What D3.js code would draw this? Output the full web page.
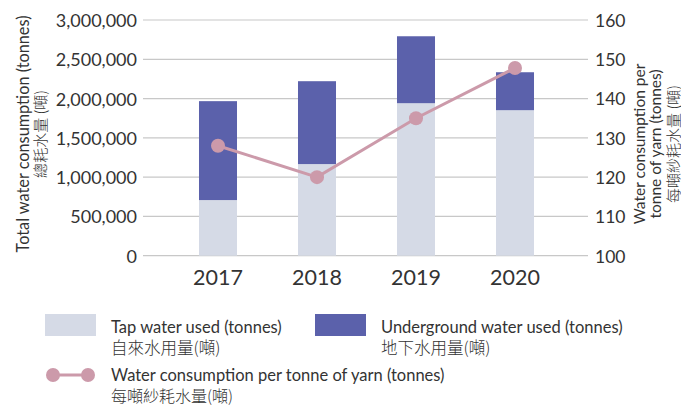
<!DOCTYPE html>
<html><head><meta charset="utf-8">
<script src="https://cdn.jsdelivr.net/npm/d3@7"></script>
<style>
body{margin:0;background:#fff;}
text{font-family:Lato,"Noto Sans CJK TC",sans-serif;fill:#333;}
</style></head><body>
<svg id="c" width="681" height="406"></svg>
<script>
const years = ["2017","2018","2019","2020"];
const tapWater = [708000, 1166000, 1941000, 1852000];
const undergroundWater = [1259000, 1055000, 852000, 483000];
const perTonne = [128, 120, 135, 147.8];
const leftTicks = [0, 500000, 1000000, 1500000, 2000000, 2500000, 3000000];
const rightTicks = [100, 110, 120, 130, 140, 150, 160];

const svg = d3.select("#c");
const x = d3.scaleBand().domain(years).range([168.5, 564.5]).paddingInner(0.616).paddingOuter(0.308);
const y = d3.scaleLinear().domain([0, 3000000]).range([255.7, 20]);
const y2 = d3.scaleLinear().domain([100, 160]).range([255.7, 20]);
const gridX0 = 143, gridX1 = 588;
const CJK = "'Noto Sans CJK TC'";

// gridlines
svg.append("g").selectAll("line").data(leftTicks).join("line")
  .attr("x1", gridX0).attr("x2", gridX1)
  .attr("y1", d => y(d)).attr("y2", d => y(d))
  .attr("stroke", "#c8c8c8").attr("stroke-width", 1.2);

// left axis labels
const fmt = d3.format(",");
const la = svg.append("g").attr("transform", `translate(${gridX0},0)`)
  .call(d3.axisLeft(y).tickValues(leftTicks).tickFormat(fmt).tickSize(0).tickPadding(6));
la.select(".domain").remove();
la.selectAll("text").attr("font-size", 18).attr("dy", "0.36em").style("font-family", "Lato").attr("fill", "#333");

const ra = svg.append("g").attr("transform", `translate(${gridX1},0)`)
  .call(d3.axisRight(y2).tickValues(rightTicks).tickSize(0).tickPadding(7));
ra.select(".domain").remove();
ra.selectAll("text").attr("font-size", 17.5).attr("dy", "0.36em").style("font-family", "Lato").attr("fill", "#333");

// bars
const stackData = years.map((yr, i) => ({year: yr, tap: tapWater[i], under: undergroundWater[i]}));
const series = d3.stack().keys(["tap", "under"])(stackData);
const colors = {tap: "#d5dae6", under: "#5b61ab"};
svg.append("g").selectAll("g").data(series).join("g")
  .attr("fill", d => colors[d.key])
  .selectAll("rect").data(d => d).join("rect")
  .attr("x", d => x(d.data.year)).attr("width", x.bandwidth())
  .attr("y", d => y(d[1])).attr("height", d => y(d[0]) - y(d[1]));

// x axis labels
const xa = svg.append("g").attr("transform", "translate(0,255.7)")
  .call(d3.axisBottom(x).tickSize(0).tickPadding(14));
xa.select(".domain").remove();
xa.selectAll("text").attr("font-size", 21.5).style("font-family", "Lato").attr("fill", "#333");

// line
const pink = "#cc9aaa";
const line = d3.line().x((d, i) => x(years[i]) + x.bandwidth() / 2).y(d => y2(d));
svg.append("path").datum(perTonne).attr("d", line)
  .attr("fill", "none").attr("stroke", pink).attr("stroke-width", 3);
svg.append("g").selectAll("circle").data(perTonne).join("circle")
  .attr("cx", (d, i) => x(years[i]) + x.bandwidth() / 2).attr("cy", d => y2(d))
  .attr("r", 7).attr("fill", pink);

// axis titles
const lt = svg.append("text").attr("transform", "translate(29,134) rotate(-90)")
  .attr("text-anchor", "middle").attr("font-size", 16.3);
lt.append("tspan").attr("x", 0).attr("dy", 0).text("Total water consumption (tonnes)");
lt.append("tspan").attr("x", 0).attr("dy", 17).text("總耗水量 (噸)").style("font-family", CJK).attr("font-size", 15).attr("font-weight", 300);

const rt = svg.append("text").attr("transform", "translate(645,144) rotate(-90)")
  .attr("text-anchor", "middle").attr("font-size", 15.5);
rt.append("tspan").attr("x", 0).attr("dy", 0).text("Water consumption per");
rt.append("tspan").attr("x", 0).attr("dy", 16).text("tonne of yarn (tonnes)");
rt.append("tspan").attr("x", 0).attr("dy", 17.5).text("每噸紗耗水量 (噸)").style("font-family", CJK).attr("font-size", 15).attr("font-weight", 300);

// legend
const legendItems = [
  {type: "rect", color: colors.tap, x: 45, y: 314, en: "Tap water used (tonnes)", zh: "自來水用量(噸)"},
  {type: "rect", color: colors.under, x: 315, y: 314, en: "Underground water used (tonnes)", zh: "地下水用量(噸)"},
  {type: "line", color: pink, x: 45, y: 375, en: "Water consumption per tonne of yarn (tonnes)", zh: "每噸紗耗水量(噸)"}
];
const lg = svg.append("g");
legendItems.forEach(it => {
  const g = lg.append("g");
  if (it.type === "rect") {
    g.append("rect").attr("x", it.x).attr("y", it.y).attr("width", 51).attr("height", 22).attr("fill", it.color);
    g.append("text").attr("x", it.x + 66).attr("y", it.y + 19).attr("font-size", 16.5).text(it.en);
    g.append("text").attr("x", it.x + 66).attr("y", it.y + 40).attr("font-size", 16.5).attr("font-weight", 300)
      .style("font-family", CJK).text(it.zh);
  } else {
    g.append("line").attr("x1", it.x + 8).attr("x2", it.x + 43).attr("y1", it.y).attr("y2", it.y)
      .attr("stroke", it.color).attr("stroke-width", 3);
    g.append("circle").attr("cx", it.x + 8).attr("cy", it.y).attr("r", 7).attr("fill", it.color);
    g.append("circle").attr("cx", it.x + 43).attr("cy", it.y).attr("r", 7).attr("fill", it.color);
    g.append("text").attr("x", it.x + 66).attr("y", it.y + 6).attr("font-size", 16.5).text(it.en);
    g.append("text").attr("x", it.x + 66).attr("y", it.y + 27).attr("font-size", 16).attr("font-weight", 300)
      .style("font-family", CJK).text(it.zh);
  }
});
</script></body></html>
